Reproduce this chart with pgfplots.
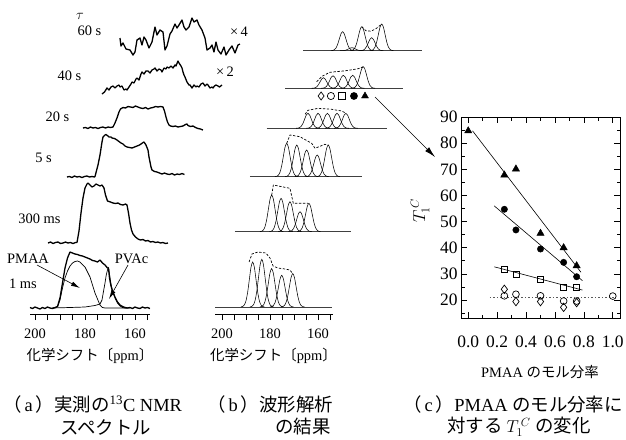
\documentclass[border=0pt]{standalone}
\usepackage{fontspec}
\setmainfont{Liberation Serif}
\newfontfamily\jp{Noto Sans CJK JP}
\usepackage{pgfplots}
\usepackage{pgfplotstable}
\pgfplotsset{compat=1.18}
\usetikzlibrary{arrows.meta}
\newcommand\fs[1]{\fontsize{#1}{#1}\selectfont}

% unit peak shape for the fitted components (ppm offset, relative height)
\pgfplotstableread{
dx g
-4.9 0.002
-4.2 0.011
-3.5 0.044
-2.8 0.135
-2.1 0.325
-1.4 0.607
-0.7 0.883
0 1
0.7 0.883
1.4 0.607
2.1 0.325
2.8 0.135
3.5 0.044
4.2 0.011
4.9 0.002
}\gauss

\pgfplotsset{
  ppm/.style={x dir=reverse, y=1bp, axis x line=bottom, axis y line=none,
    x axis line style={-, line width=0.7bp},
    xtick={200,180,160}, minor xtick={155,165,170,175,185,190,195},
    tick align=outside, major tick length=6bp, minor tick length=6bp,
    every tick/.style={black, line width=0.6bp},
    ticklabel style={font=\fs{14.5}}, xticklabel shift=5bp,
    /pgf/number format/assume math mode=true, clip=false},
  trace/.style={black, line width=1.3bp, line join=round},
  gs/.style={black, line width=0.55bp, smooth},
  env/.style={black, line width=0.7bp, dash pattern=on 2.4bp off 1.6bp},
  base/.style={black!75, line width=0.9bp},
}
\newcommand\pk[2]{\addplot[gs] table[x expr=\thisrow{dx}+#1-\xo, y expr=#2*\thisrow{g}+\yo]{\gauss};}

\begin{document}
\begin{tikzpicture}
\path[use as bounding box] (0,0) rectangle (626bp,-440bp);

% ---------- (a) measured spectra ----------
\begin{axis}[ppm, at={(30bp,-314bp)}, anchor=south west, x=2.5bp,
  xmin=154, xmax=202, ymin=-6, ymax=0]
% 1 ms total
\addplot[trace] table {
202 0.5
201 -0.5
200 1
199 0
198 -1
197 0.5
196 -0.5
195 1
194 0
193 -0.5
192 0.5
191 1.5
190 10
189 25
188 40
187 50
186 56
185 55
184 54
183 53.5
182 52.5
181 52
180 51
179 50
178 49
177 47.5
176 47
175 46
174 48
173 45
172 43
171 40
170.6 40
170.2 30
169.6 22
169 17
168 11
167 6
166 3
165 1.5
164 0.5
163 0
162 0.5
161 -0.5
160 1
159 0
158 -0.5
157 1
156 0
155 0.5
154 -0.5
};
% 1 ms PMAA component
\addplot[black, line width=0.7bp] table {
193 0
191 1
190 8
189 20
188 30
187 37
186 42
185 45
184 46.5
183 47
182 46
181 43.5
180 41
179 36
178 31
177 23
176 15
175 9
174 3
173 0.5
172 0
163 0
};
% 1 ms PVAc component
\addplot[black, line width=0.7bp] table {
193 0
186 0.5
180 1
176 2.5
174 4
173.2 8
172.5 18
172 25
171.5 33
171 38
170.6 40
170.2 34
169.6 24
169 17
168 10
167 5
166 2
165 0.5
164 0
162 0
};
% 300 ms
\addplot[trace] table[x expr=\thisrowno{0}-7.2, y expr=\thisrowno{1}+65] {
202 0
201 1
200 -0.5
199 0.5
198 1
197 -0.5
196 0
195 1
194 0
193 0.5
192 -0.5
191 0.5
190.4 0.5
189.6 12
188.8 30
188 45
187.2 55
186.4 59
186 60
185.2 58
184.4 56
183.6 57
182.8 59
182 58
181.2 57
180.4 58
179.6 55
179 48
178.2 42
177 41
176 40
175 39.5
174 40
173 38.5
172 38
171 39
170.4 38
169.8 30
169.2 20
168.6 13
168 9
167 6
166 4
165 3
164 3.5
163 2
162 2.5
161 1
160 1.5
159 0.5
158 1
157 0
156 0.5
155 -0.5
154 0
};
% 5 s
\addplot[trace] table[x expr=\thisrowno{0}-14.8, y expr=\thisrowno{1}+131] {
202 0
201 0.5
200 -0.5
199 1
198 0
197 0.5
196 -0.5
195 0.5
194 1
193 0
192 0.5
191 0
190.8 0.5
189.6 12
188.8 22
188 35
187.6 40
186.8 42
186.4 42.5
185.6 41
185.2 40
184.4 40
184 39
183 38.5
182 37
181.2 35.5
180.4 34
179.6 33
178.8 31
178 30
177 29.5
176 29
175 30
174 31
173 32
172.4 33
171.6 34.5
171.2 35
170.4 32
169.6 27
169.2 20
168.8 15
168.4 10
168 7
167 5.5
166 5
165 4
164 3
163 4
162 3
161 2.5
160 3.5
159 2
158 3
157 2.5
156 3.5
155 2.5
};
% 20 s
\addplot[trace] table[x expr=\thisrowno{0}-21.2, y expr=\thisrowno{1}+180] {
202 0
201 0.5
200 -0.5
199 1
198 0
197 0.5
196 -0.5
195 0.5
194 1
193 0
192 1
191 0.5
190 1
189.2 5
188.4 10
187.6 16
187 19
186 20.5
185 20
184 21.5
183 21
182 20.5
181 22
180 21
179 20
178 19.5
177 20.5
176 19
175 20
174 20.5
173 21.5
172 21
171 21.5
170 21
169.4 17
168.8 11
168.2 6
167.6 3
167 2
166 1.5
165 2
164 1
163 1.5
162 2
161 3.5
160.4 4
160 2.5
159 1.5
158 2
157 0.5
156 -0.5
155 -1
154 -2
};
% 40 s (x2)
\addplot[trace] table[x expr=\thisrowno{0}-28.8, y expr=\thisrowno{1}+214] {
202 0
201 2
200 6
199.2 4
198.4 7
197.6 8
196.8 6
196 8
195.2 9
194.8 7
194 8
193.2 4
192.4 5
192 4
191.2 7
190.4 10
190 12
189.2 11
188.4 15
188 16
187.2 14
186.4 20
186 22
185.2 20
184.4 23
183.6 23
182.8 21
182 24
181.2 25
180.8 26
180 23
179.2 25
178.4 24
178 22
177.2 26
176.4 25
176 27
175.2 26
174.4 28
173.6 26
172.8 29
172.4 28
171.6 33
171.2 31
170.4 28
170 26
169.6 22
169.2 19
168.8 17
168 12
167.2 9
166.8 9
166 6
165.2 9
164.4 7
164 8
163.2 7
162.4 10
161.6 11
160.8 8
160 10
159.6 9
158.8 6
158 7
157.6 6
157 8
156.4 9
155.6 8
155 7
154 9
};
% 60 s (x4)
\addplot[trace] table[x expr=\thisrowno{0}-36, y expr=\thisrowno{1}+256] {
202 14
201.6 6
200.8 9
199.6 3
198 2
196.8 -3
196 0
195.2 12
194 14
193.2 7
192.4 15
191.6 12
190.4 4
189.2 10
188 25
187.2 17
186 22
184.8 20
184 2
183.2 6
182 18
181.2 21
180 28
179.2 24
178.4 27
177.2 32
176.4 25
175.6 22
174.4 25
173.2 34
172.4 30
171.2 32
170.4 27
169.2 22
168 14
167.2 2
166 4
165.2 7
164.4 0
163.6 10
162.8 2
161.6 -2
160.4 5
159.6 -3
158.4 2
157.2 6
156 -1
154.8 7
154 8
};
\end{axis}

% ---------- (b) peak separation ----------
\begin{axis}[ppm, at={(215bp,-314bp)}, anchor=south west, x=2.4bp,
  xmin=153.7, xmax=202.9, ymin=-7, ymax=0]
% 1 ms
\def\xo{0}\def\yo{0}
\addplot[base] coordinates {(202.9,0) (154.3,0)};
\pk{187.2}{45}\pk{183.4}{47.7}\pk{179.3}{38.4}\pk{175.1}{31.7}\pk{170.5}{33.4}
\addplot[env] table[x expr=\thisrowno{0}-\xo, y expr=\thisrowno{1}+\yo] {
188.7 45
187.5 53
185.0 55
181.7 54
180.0 49
178.7 41
176.7 39
173.7 38
171.7 37
170.5 33.4
};
% 300 ms
\def\xo{8.33}\def\yo{75.3}
\addplot[base] coordinates {(194.57,75.3) (146.27,75.3)};
\pk{187.6}{36.7}\pk{183.7}{33.4}\pk{180.0}{30}\pk{175.8}{20}\pk{172.1}{28.4}
\addplot[env] table[x expr=\thisrowno{0}-\xo, y expr=\thisrowno{1}+\yo] {
187.6 36.7
186.9 46.7
180.0 43.4
178.6 28.4
172.5 28.4
};
% 5 s
\def\xo{14.58}\def\yo{130.3}
\addplot[base] coordinates {(188.32,130.3) (141.82,130.3)};
\pk{187.6}{33.4}\pk{183.4}{31.7}\pk{179.3}{26.7}\pk{174.9}{21.7}\pk{170.3}{31.7}
\addplot[env] table[x expr=\thisrowno{0}-\xo, y expr=\thisrowno{1}+\yo] {
187.6 33.4
186.2 41.7
182.1 40
177.2 33.4
175.8 28.4
171.7 32.4
170.3 31.7
};
% 20 s
\def\xo{21.54}\def\yo{178.7}
\addplot[base] coordinates {(181.36,178.7) (131.36,178.7)};
\pk{185.7}{15}\pk{181.5}{15}\pk{177.6}{15}\pk{173.6}{15}\pk{169.9}{15}
\addplot[env] table[x expr=\thisrowno{0}-\xo, y expr=\thisrowno{1}+\yo] {
186.9 14
185.7 18
181.4 20
175.8 19
171.6 17.3
169.9 15
};
% 40 s
\def\xo{29.17}\def\yo{218.7}
\addplot[base] coordinates {(173.73,218.7) (124.53,218.7)};
\pk{186.9}{10.6}\pk{182.9}{12.6}\pk{178.6}{13}\pk{174.7}{13}\pk{170.3}{21.6}
\addplot[env] table[x expr=\thisrowno{0}-\xo, y expr=\thisrowno{1}+\yo] {
189.7 6.6
187.5 12
184.2 16
177.9 17.5
172.5 19.5
170.3 21.6
};
% 60 s
\def\xo{36.67}\def\yo{256.3}
\addplot[base] coordinates {(166.23,256.3) (116.63,256.3)};
\pk{186.4}{19}\pk{182.5}{3}\pk{178.4}{24}\pk{174.3}{13}\pk{170.1}{26.7}
\addplot[env] table[x expr=\thisrowno{0}-\xo, y expr=\thisrowno{1}+\yo] {
178.4 24
176.7 20
174.6 19.5
172.5 22
170.1 26.7
};
% component symbols
\addplot[only marks, mark=diamond, mark size=4bp, mark options={line width=0.7bp}] coordinates {(158.7,211)};
\addplot[only marks, mark=o, mark size=3.6bp, mark options={line width=0.7bp}] coordinates {(154.6,211)};
\addplot[only marks, mark=square, mark size=3.4bp, mark options={line width=0.7bp}] coordinates {(150.0,211)};
\addplot[only marks, mark=*, mark size=3.6bp] coordinates {(145.0,211)};
\addplot[only marks, mark=triangle*, mark size=4bp] coordinates {(140.4,211)};
\end{axis}

% ---------- (c) T1C vs PMAA fraction ----------
\begin{axis}[at={(461bp,-318.3bp)}, anchor=south west, scale only axis,
  width=159bp, height=201.3bp,
  xmin=-0.05, xmax=1.05, ymin=13, ymax=90,
  xtick={0,0.2,0.4,0.6,0.8,1}, minor xtick={0.1,0.3,0.5,0.7,0.9},
  ytick={20,30,...,90}, minor ytick={15,25,...,85},
  tick align=inside, major tick length=6bp, minor tick length=3.5bp,
  every tick/.style={black, line width=0.6bp},
  axis line style={line width=0.7bp},
  ticklabel style={font=\fs{17.5}},
  /pgf/number format/assume math mode=true,
  xticklabel shift=14bp,
  xticklabel style={/pgf/number format/fixed, /pgf/number format/fixed zerofill,
    /pgf/number format/precision=1},
  clip=false]
\addplot[black, line width=0.6bp] coordinates {(0.03,84.7) (0.78,30.6)};
\addplot[black, line width=0.6bp] coordinates {(0.18,56) (0.79,27.4)};
\addplot[black, line width=0.6bp] coordinates {(0.18,32.7) (0.79,23.8)};
\addplot[black!65, line width=1.1bp, dash pattern=on 1.5bp off 2bp] coordinates {(0.15,20.9) (1.02,20.9)};
\addplot[only marks, mark=triangle*, mark size=4.2bp] coordinates {(0,84.7) (0.25,67.8) (0.33,70.1) (0.5,45.5) (0.66,40) (0.75,33.1)};
\addplot[only marks, mark=*, mark size=3.2bp] coordinates {(0.25,54.7) (0.33,46.8) (0.5,39.5) (0.66,34.4) (0.75,28.9)};
\addplot[only marks, mark=square, mark size=3bp, mark options={line width=0.7bp}] coordinates {(0.25,31.7) (0.33,29.8) (0.5,28.0) (0.66,24.9) (0.75,24.9)};
\addplot[only marks, mark=o, mark size=3.4bp, mark options={line width=0.7bp}] coordinates {(0.25,21.6) (0.33,22.2) (0.5,21.6) (0.66,19.6) (0.75,19.6) (1.0,21.5)};
\addplot[only marks, mark=diamond, mark size=4.2bp, mark options={line width=0.7bp}] coordinates {(0.25,24.1) (0.33,19.4) (0.5,19.4) (0.66,17.2) (0.75,19.0)};
\end{axis}

% ---------- labels ----------
\begin{scope}[every node/.style={font=\fs{14.5}, inner sep=0pt}]
\node at (80bp,-16bp) {$\tau$};
\node at (89.5bp,-31bp) {60 s};
\node at (239bp,-31.5bp) {×\,4};
\node at (69.5bp,-76bp) {40 s};
\node at (225bp,-72bp) {×\,2};
\node at (57.5bp,-117bp) {20 s};
\node at (43.5bp,-158bp) {5 s};
\node at (39.5bp,-218.5bp) {300 ms};
\node at (28bp,-259bp) {PMAA};
\node at (131.5bp,-259bp) {PVAc};
\node at (23bp,-283.5bp) {1 ms};
\node at (90bp,-356bp) {{\jp 化学シフト〔}ppm{\jp 〕}};
\node at (273.5bp,-356bp) {{\jp 化学シフト〔}ppm{\jp 〕}};
\node at (540bp,-372bp) {PMAA {\jp のモル分率}};
\end{scope}
\node[font=\fs{17}, rotate=90] at (420bp,-211bp) {$T_1^{\,C}$};

\draw[line width=0.6bp, -{Latex[length=9bp, width=4.5bp]}] (37bp,-265bp) -- (80bp,-288bp);
\draw[line width=0.6bp, -{Latex[length=9bp, width=4.5bp]}] (128bp,-265bp) -- (109bp,-299bp);
\draw[line width=0.7bp, -{Latex[length=11bp, width=5.5bp]}] (375bp,-97bp) -- (435bp,-157bp);

\begin{scope}[every node/.style={font=\fs{18.5}, inner sep=0pt, anchor=west}]
\node at (3bp,-404bp) {{\jp （}\,a\,{\jp ）実測の}\textsuperscript{13}C NMR};
\node at (60bp,-427bp) {{\jp スペクトル}};
\node at (207bp,-404bp) {{\jp （}\,b\,{\jp ）波形解析}};
\node at (275bp,-427bp) {{\jp の結果}};
\node at (403bp,-404bp) {{\jp （}\,c\,{\jp ）}PMAA {\jp のモル分率に}};
\node at (447bp,-427bp) {{\jp 対する }$T_1^{\,C}$ {\jp の変化}};
\end{scope}
\end{tikzpicture}
\end{document}
